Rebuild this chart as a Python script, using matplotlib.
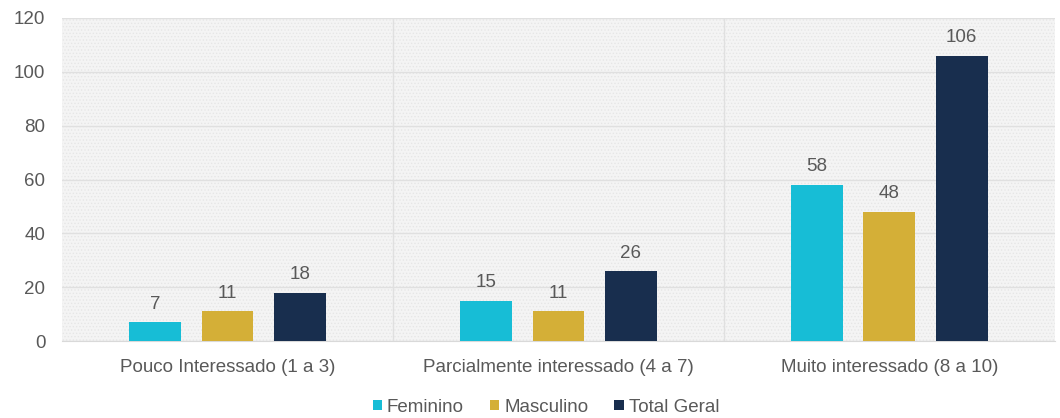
import matplotlib
matplotlib.use("Agg")
import matplotlib.pyplot as plt
import numpy as np

categories = ["Pouco Interessado (1 a 3)", "Parcialmente interessado (4 a 7)", "Muito interessado (8 a 10)"]
series_names = ["Feminino", "Masculino", "Total Geral"]
feminino = [7, 15, 58]
masculino = [11, 11, 48]
total_geral = [18, 26, 106]
yticks = [0, 20, 40, 60, 80, 100, 120]

colors = ["#17BDD6", "#D4AF37", "#182E4E"]
txt = "#595959"
fs = 13.5

plt.rcParams['font.family'] = ['Liberation Sans', 'DejaVu Sans']
plt.rcParams['hatch.color'] = '#e4e4e4'
plt.rcParams['hatch.linewidth'] = 0.6

fig = plt.figure(figsize=(10.6, 4.18), dpi=100)
ax = fig.add_axes([0.0585, 0.184, 0.9365, 0.773])
ax.set_facecolor('#f4f4f4')
ax.add_patch(plt.Rectangle((0, 0), 1, 1, transform=ax.transAxes, facecolor='none',
                           hatch='.....', edgecolor='#e6e6e6', lw=0, zorder=0))

x = np.arange(len(categories))
w = 0.156
off = 0.219
for i, (vals, name) in enumerate(zip([feminino, masculino, total_geral], series_names)):
    bars = ax.bar(x + (i - 1) * off, vals, w, color=colors[i], label=name, zorder=3)
    for b, v in zip(bars, vals):
        ax.text(b.get_x() + b.get_width() / 2, v + 3.5, str(v), ha='center', va='bottom',
                color=txt, fontsize=fs, zorder=4)

ax.set_xlim(-0.5, 2.5)
ax.set_ylim(0, 120)
ax.set_yticks(yticks)
ax.set_xticks(x)
ax.set_xticklabels(categories)
ax.tick_params(axis='both', length=0, colors=txt, labelsize=fs)
ax.tick_params(axis='y', pad=12)
ax.tick_params(axis='x', pad=13)
ax.grid(axis='y', color='#e0e0e0', lw=1.0, zorder=1)
for xv in [0.5, 1.5]:
    ax.axvline(xv, color='#e0e0e0', lw=1.0, zorder=1)
for s in ['top', 'right', 'left']:
    ax.spines[s].set_visible(False)
ax.spines['bottom'].set_color('#d9d9d9')
ax.set_axisbelow(True)

leg = fig.legend(loc='lower center', bbox_to_anchor=(0.515, -0.035), ncol=3, frameon=False,
                 fontsize=fs, handlelength=0.5, handleheight=0.5, handletextpad=0.25,
                 columnspacing=1.4)
for t in leg.get_texts():
    t.set_color(txt)

fig.savefig("out.png", dpi=100)
